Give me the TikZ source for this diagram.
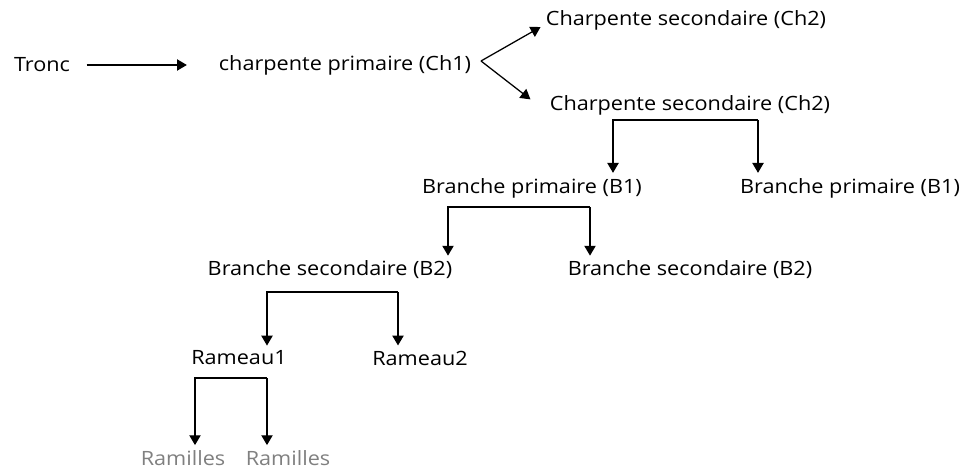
\documentclass[tikz,border=0pt]{standalone}
\usepackage{fontspec}
\setmainfont{Open Sans}[FakeStretch=1.1]
\usetikzlibrary{arrows.meta}
\begin{document}
\begin{tikzpicture}[x=0.025cm, y=-0.025cm, font=\fontsize{14}{16}\selectfont,
    line width=0.9pt, >={Triangle[length=7pt, width=8pt]}]
  \useasboundingbox (0, 0) rectangle (970, 472);
  \node (tronc) at (42, 65) {Tronc};
  \node (ch1) at (345, 65) {charpente primaire (Ch1)};
  \draw[->, shorten <=8pt, shorten >=19pt] (tronc) to (ch1);
  \node (ch2a) at (686, 20) {Charpente secondaire (Ch2)};
  \node (ch2b) at (690, 105) {Charpente secondaire (Ch2)};
    \coordinate (fk) at (481, 61);
    \draw[->] (fk) to ([yshift=-5pt]ch2a.west);
    \draw[->] (fk) to ([xshift=-10pt, yshift=4pt]ch2b.west);
  \node (b1a) at (532, 188) {Branche primaire (B1)};
  \node (b1b) at (850, 188) {Branche primaire (B1)};
    \coordinate (j1) at (613, 120);
    \coordinate (j1r) at (758, 120);
    \draw[->] (j1r) to (j1) to (j1 |- b1a.north);
    \draw[->] (j1r) to (j1r |- b1b.north);
  \node (b2a) at (330, 270) {Branche secondaire (B2)};
  \node (b2b) at (690, 270) {Branche secondaire (B2)};
    \coordinate (j2) at (448, 207);
    \coordinate (j2r) at (590, 207);
    \draw[->] (j2r) to (j2) to (j2 |- b2a.north);
    \draw[->] (j2r) to (j2r |- b2b.north);
  \node (r1) at (239, 358) {Rameau1};
  \node (r2) at (420, 358) {Rameau2};
    \coordinate (j3) at (267, 292);
    \coordinate (j3r) at (398, 292);
    \draw[->] (j3r) to (j3) to (j3 |- r1.north);
    \draw[->] (j3r) to (j3r |- r2.north);
  \node[gray] (m1) at (183, 458) {Ramilles};
  \node[gray] (m2) at (288, 458) {Ramilles};
    \coordinate (j4) at (195, 378);
    \coordinate (j4r) at (267, 378);
    \draw[->] (j4r) to (j4) to (j4 |- m1.north);
    \draw[->] (j4r) to (j4r |- m2.north);
  \end{tikzpicture}
\end{document}
